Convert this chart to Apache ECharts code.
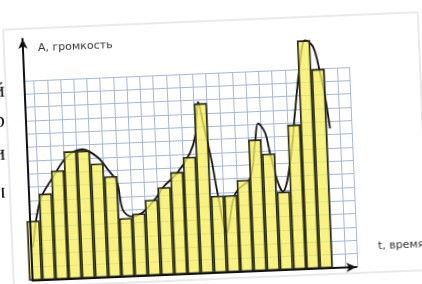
<!DOCTYPE html>
<html>
<head>
<meta charset="utf-8">
<script src="https://cdn.jsdelivr.net/npm/echarts@6/dist/echarts.min.js"></script>
<style>
html, body { margin: 0; padding: 0; background: #fff; overflow: hidden; width: 422px; height: 284px; }
#chart { position: absolute; left: 0; top: 0; width: 440px; height: 300px;
  transform-origin: 211px 142px; transform: rotate(-2.4deg); }
</style>
</head>
<body>
<div id="chart"></div>
<script>
// отсчёты (высота столбиков, в клетках)
var barValues = [4.5, 6.5, 8.2, 9.6, 9.6, 8.6, 7.6, 4.4, 4.7, 5.7, 6.6, 7.7,
                 8.8, 12.8, 5.8, 5.8, 6.9, 9.9, 8.8, 5.9, 10.9, 17.2, 15.0];

// исходный сигнал (кривая)
var curveX = [0.41, 1.09, 2.13, 3.26, 4.42, 5.53, 6.32, 6.96, 7.32, 7.99, 8.84, 9.93,
              10.42, 11.52, 12.57, 13.00, 13.34, 13.65, 14.20, 14.49, 15.11, 15.67,
              16.08, 17.03, 17.51, 17.81, 18.30, 18.62, 19.12, 19.47, 20.10, 20.63,
              21.17, 21.62, 22.20, 22.65, 22.95, 23.23];
var curveY = [2.5, 6.0, 7.7, 9.2, 9.7, 9.1, 8.1, 7.1, 5.0, 4.5, 4.8, 5.9,
              6.6, 7.6, 9.1, 10.3, 12.9, 11.3, 8.3, 6.2, 3.0, 5.4,
              6.2, 7.0, 9.6, 11.1, 10.4, 8.8, 6.6, 5.9, 8.0, 11.8,
              15.5, 17.2, 16.7, 14.7, 12.9, 10.5];

var yTitle = 'A, громкость';
var xTitle = 't, время';
var edgeLetters = ['й', 'р', 'и', 'н'];

var barData = barValues.map(function (v, i) { return [i + 0.5, v]; });
var curveData = curveX.map(function (x, i) { return [x, curveY[i]]; });

var chart = echarts.init(document.getElementById('chart'), null, { renderer: 'canvas' });

var noAxis = { show: true, axisLine: { show: false }, axisTick: { show: false },
               axisLabel: { show: false } };

var option = {
  backgroundColor: '#fff',
  animation: false,
  grid: [
    // оси и данные
    { left: 27, top: 31, width: 324, height: 242 },
    // клетчатая бумага
    { left: 23.4, top: 73, width: 328.6, height: 200 }
  ],
  xAxis: [
    Object.assign({}, noAxis, {
      type: 'value', gridIndex: 0, min: 0.272, max: 24.78, z: 5,
      splitLine: { show: false },
      axisLine: { show: true, symbol: ['none', 'arrow'], symbolSize: [7, 10],
                  lineStyle: { color: '#111', width: 2 } }
    }),
    Object.assign({}, noAxis, {
      type: 'value', gridIndex: 1, min: 0, max: 24.86, interval: 1,
      splitLine: { show: true, lineStyle: { color: '#a3b8d8', width: 1 } }
    })
  ],
  yAxis: [
    Object.assign({}, noAxis, {
      type: 'value', gridIndex: 0, min: 0, max: 18.2, z: 5,
      splitLine: { show: false },
      axisLine: { show: true, symbol: ['none', 'arrow'], symbolSize: [7, 10],
                  lineStyle: { color: '#111', width: 2 } }
    }),
    Object.assign({}, noAxis, {
      type: 'value', gridIndex: 1, min: 0, max: 15, interval: 1,
      splitLine: { show: true, lineStyle: { color: '#a3b8d8', width: 1 } }
    })
  ],
  series: [
    {
      type: 'line', xAxisIndex: 0, yAxisIndex: 0, z: 2,
      data: curveData, smooth: 0.35, symbol: 'none',
      lineStyle: { color: '#111', width: 1.8 }
    },
    {
      type: 'bar', xAxisIndex: 0, yAxisIndex: 0, z: 3,
      data: barData, barWidth: 13.22,
      itemStyle: { color: 'rgba(245,240,90,0.78)', borderColor: '#26261a', borderWidth: 1.6 }
    }
  ],
  graphic: [
    { type: 'rect', z: 0, shape: { x: 8, y: 21, width: 415, height: 258 },
      style: { fill: 'none', stroke: '#d4d4d4', lineWidth: 1 } },
    { type: 'rect', z: 1, shape: { x: 17, y: 70, width: 9.4, height: 205 },
      style: { fill: '#fff' } },
    { type: 'text', z: 6, x: 42, y: 41,
      style: { text: yTitle, font: '11px "DejaVu Sans"', fill: '#333', verticalAlign: 'middle' } },
    { type: 'text', z: 6, x: 373.5, y: 253,
      style: { text: xTitle, font: '11px "DejaVu Sans"', fill: '#333', verticalAlign: 'middle' } }
  ].concat(edgeLetters.map(function (ch, i) {
    var xs = [7, 6, 5, 3.5];
    var ys = [93, 123, 156, 194];
    return { type: 'text', z: 6, x: xs[i], y: ys[i],
      style: { text: ch, font: '22px "Liberation Serif"', fill: '#111', align: 'right', verticalAlign: 'bottom' } };
  }))
};

chart.setOption(option);
</script>
</body>
</html>
